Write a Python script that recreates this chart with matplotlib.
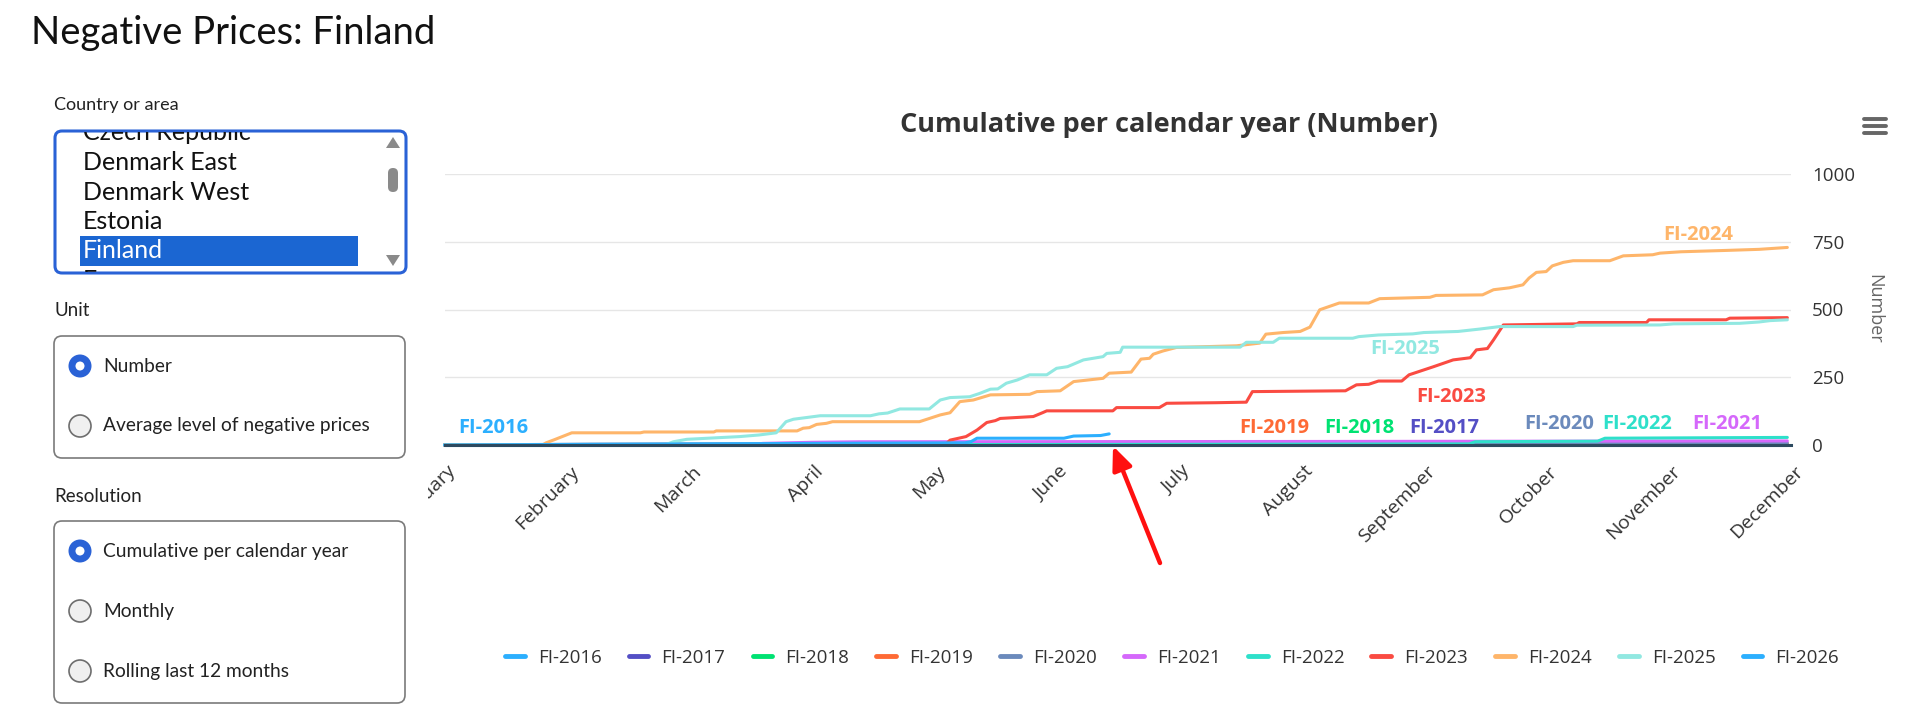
import matplotlib
matplotlib.use("Agg")
import matplotlib.pyplot as plt
from matplotlib.patches import FancyBboxPatch, Circle, Polygon, FancyArrowPatch
from matplotlib.transforms import Bbox, TransformedBbox, ScaledTranslation

W, H = 1920, 711

# ---- data (x = months since 1 January, y = cumulative number of negative-price hours)
months = ["January", "February", "March", "April", "May", "June", "July",
          "August", "September", "October", "November", "December"]

fi2016_x = [0, 10.97]
fi2016_y = [0, 0]
fi2017_x = [0, 10.97]
fi2017_y = [0, 2]
fi2018_x = [0, 10.97]
fi2018_y = [0, 1]
fi2019_x = [0, 4.0, 9.1, 10.97]
fi2019_y = [0, 1, 2, 4]
fi2020_x = [0, 1.2, 3.0, 9.0, 10.97]
fi2020_y = [0, 3, 5, 6, 8]
fi2021_x = [0, 2.5, 2.6, 3.0, 3.4, 7.0, 10.97]
fi2021_y = [0, 0, 6, 10, 12, 13, 15]
fi2022_x = [0, 5.0, 8.37, 8.42, 9.42, 9.48, 10.97]
fi2022_y = [0, 2, 4, 12, 14, 25, 28]
fi2023_x = [0, 3.5, 4.10, 4.13, 4.26, 4.35, 4.43, 4.50, 4.54, 4.81, 4.89, 4.92,
            5.46, 5.49, 5.84, 5.90, 6.30, 6.55, 6.60, 7.36, 7.45, 7.55, 7.63,
            7.82, 7.88, 8.08, 8.24, 8.38, 8.43, 8.52, 8.57, 8.65, 9.25, 9.27,
            9.82, 9.84, 10.47, 10.50, 10.97]
fi2023_y = [0, 0, 5, 18, 31, 55, 83, 90, 98, 105, 120, 126,
            126, 138, 138, 154, 156, 158, 197, 200, 222, 224, 236,
            236, 259, 289, 314, 322, 351, 356, 388, 443, 447, 452,
            452, 462, 462, 468, 470]
fi2024_x = [0, 0.80, 0.83, 0.90, 1.04, 1.60, 1.63, 2.20, 2.22, 2.88, 2.93, 2.98,
            3.04, 3.12, 3.17, 3.88, 4.05, 4.13, 4.21, 4.32, 4.46, 4.78, 4.84,
            5.03, 5.14, 5.38, 5.43, 5.61, 5.69, 5.76, 5.79, 5.87, 5.98, 6.47,
            6.66, 6.71, 6.85, 6.99, 7.07, 7.15, 7.31, 7.55, 7.64, 8.05, 8.10,
            8.48, 8.57, 8.70, 8.81, 8.86, 8.92, 9.00, 9.05, 9.14, 9.22, 9.52,
            9.63, 9.87, 9.93, 10.10, 10.47, 10.74, 10.97]
fi2024_y = [0, 0, 8, 20, 45, 45, 48, 48, 52, 52, 62, 64,
            76, 80, 86, 86, 111, 119, 160, 166, 185, 187, 197,
            200, 234, 246, 265, 269, 317, 320, 335, 347, 360, 366,
            376, 409, 415, 419, 435, 499, 524, 524, 540, 545, 552,
            554, 573, 580, 591, 616, 637, 640, 661, 674, 680, 680,
            698, 702, 708, 713, 718, 722, 729]
fi2025_x = [0, 1.80, 1.87, 1.98, 2.41, 2.57, 2.71, 2.79, 2.85, 3.07, 3.48, 3.55,
            3.62, 3.72, 3.96, 4.05, 4.13, 4.29, 4.37, 4.46, 4.52, 4.59, 4.68,
            4.78, 4.92, 5.00, 5.09, 5.22, 5.38, 5.41, 5.52, 5.54, 6.50, 6.55,
            6.77, 6.82, 7.42, 7.47, 7.63, 7.91, 8.00, 8.28, 8.46, 8.62, 9.22,
            9.25, 9.93, 10.04, 10.58, 10.74, 10.83, 10.97]
fi2025_y = [0, 0, 12, 21, 31, 37, 45, 86, 95, 108, 108, 115,
            118, 133, 133, 166, 175, 178, 190, 206, 207, 228, 240,
            259, 259, 283, 289, 314, 326, 338, 342, 361, 361, 379,
            379, 394, 394, 400, 406, 410, 415, 419, 428, 437, 437,
            442, 443, 447, 449, 454, 459, 462]
fi2026_x = [0, 1.0, 2.0, 3.0, 4.25, 4.30, 4.35, 5.06, 5.14, 5.36, 5.43]
fi2026_y = [0, 2, 4, 6, 8, 12, 25, 25, 33, 35, 41]

series_names = ["FI-2016", "FI-2017", "FI-2018", "FI-2019", "FI-2020", "FI-2021",
                "FI-2022", "FI-2023", "FI-2024", "FI-2025", "FI-2026"]
series_x = [fi2016_x, fi2017_x, fi2018_x, fi2019_x, fi2020_x, fi2021_x,
            fi2022_x, fi2023_x, fi2024_x, fi2025_x, fi2026_x]
series_y = [fi2016_y, fi2017_y, fi2018_y, fi2019_y, fi2020_y, fi2021_y,
            fi2022_y, fi2023_y, fi2024_y, fi2025_y, fi2026_y]
colors = ["#2caffe", "#544fc5", "#00e272", "#fe6a35", "#6b8abc", "#d568fb",
          "#2ee0ca", "#fa4b42", "#feb56a", "#91e8e1", "#2caffe"]

# in-chart series labels: (name, month position, value)
label_pos = [("FI-2016", 0.40, 63), ("FI-2019", 6.78, 63), ("FI-2018", 7.47, 63),
             ("FI-2017", 8.17, 63), ("FI-2020", 9.11, 77), ("FI-2022", 9.74, 77),
             ("FI-2021", 10.48, 77), ("FI-2023", 8.22, 176), ("FI-2025", 7.85, 353),
             ("FI-2024", 10.24, 774)]

countries = ["Czech Republic", "Denmark East", "Denmark West", "Estonia", "Finland", "France"]
unit_options = ["Number", "Average level of negative prices"]
resolution_options = ["Cumulative per calendar year", "Monthly", "Rolling last 12 months"]

CHART_FONT = ["Open Sans", "DejaVu Sans"]
UI_FONT = ["Lato", "DejaVu Sans"]


def fx(x):
    return x / W


def fy(y):
    return 1 - y / H


fig = plt.figure(figsize=(W / 100, H / 100), dpi=100)

# ---- chart
ax = fig.add_axes([fx(444.5), fy(445), fx(1791) - fx(444.5), fy(174) - fy(445)])
lines = []
for name, xs, ys, c in zip(series_names, series_x, series_y, colors):
    ln, = ax.plot(xs, ys, color=c, lw=2.2, label=name, clip_on=False,
                  solid_joinstyle="round", solid_capstyle="round", zorder=2)
    lines.append(ln)

for name, xm, val in label_pos:
    ax.text(xm, val, name, color=colors[series_names.index(name)], fontsize=14.5,
            fontweight="bold", family=CHART_FONT, ha="center", va="center")

ax.set_xlim(0, 11)
ax.set_ylim(0, 1000)
ax.set_yticks([0, 250, 500, 750, 1000])
ax.grid(axis="y", color="#e6e6e6", lw=1)
ax.set_axisbelow(True)
for s in ["top", "left", "right"]:
    ax.spines[s].set_visible(False)
ax.spines["bottom"].set_color("#2d4a60")
ax.spines["bottom"].set_linewidth(2.2)
ax.yaxis.tick_right()
ax.tick_params(axis="y", length=0, pad=15, labelsize=13.5, labelcolor="#333333")
ax.set_xticks(range(12))
ax.set_xticklabels(months)
ax.tick_params(axis="x", length=0, pad=17, labelsize=14, labelcolor="#333333")
clip = TransformedBbox(Bbox.from_extents(fx(428), 0, 1, 1), fig.transFigure)
shift = ScaledTranslation(0.09, 0, fig.dpi_scale_trans)
for lbl in ax.get_xticklabels():
    lbl.set_rotation(45)
    lbl.set_ha("right")
    lbl.set_va("center")
    lbl.set_rotation_mode("anchor")
    lbl.set_family(CHART_FONT)
    lbl.set_transform(lbl.get_transform() + shift)
    lbl.set_clip_box(clip)
    lbl.set_clip_on(True)
for lbl in ax.get_yticklabels():
    lbl.set_family(CHART_FONT)

fig.text(fx(1874), fy(309), "Number", rotation=270, ha="center", va="center",
         fontsize=13, color="#666666", family=CHART_FONT)
fig.text(fx(1169), fy(125), "Cumulative per calendar year (Number)", ha="center",
         va="center", fontsize=19.5, fontweight="bold", color="#333333", family=CHART_FONT)

leg = fig.legend(lines, series_names, ncol=11, loc="center",
                 bbox_to_anchor=(fx(1172), fy(658)), frameon=False,
                 handlelength=1.05, handletextpad=0.7, columnspacing=1.45,
                 prop={"family": CHART_FONT, "size": 13.5})
for t in leg.get_texts():
    t.set_color("#333333")
for h in leg.legend_handles:
    h.set_linewidth(3.5)
    h.set_solid_capstyle("round")

# ---- page overlay (pixel coordinates)
ui = fig.add_axes([0, 0, 1, 1], zorder=5)
ui.set_xlim(0, W)
ui.set_ylim(H, 0)
ui.axis("off")
ui.patch.set_alpha(0)

# hamburger menu
for yy in (119, 126, 133):
    ui.plot([1864, 1886], [yy, yy], color="#666666", lw=2.8, solid_capstyle="round")

ui.text(31, 33, "Negative Prices: Finland", fontsize=27.5, family=UI_FONT,
        color="#111111", ha="left", va="center")

ui.text(54, 105, "Country or area", fontsize=13, family=UI_FONT, color="#222222",
        ha="left", va="center")
ui.add_patch(FancyBboxPatch((55, 131), 351, 142, boxstyle="round,pad=0,rounding_size=7",
                            fc="white", ec="#2a62d6", lw=2.2))
ui.add_patch(FancyBboxPatch((80, 236), 278, 30, boxstyle="square,pad=0",
                            fc="#1b66d2", ec="none"))
list_clip = TransformedBbox(Bbox.from_extents(56, 132, 405, 272), ui.transData)
for i, c in enumerate(countries):
    yy = 133 + i * 29.5
    t = ui.text(83, yy, c, fontsize=18, family=UI_FONT, ha="left", va="center",
                color="white" if c == "Finland" else "#111111")
    t.set_clip_box(list_clip)
    t.set_clip_on(True)
# scrollbar
ui.add_patch(Polygon([[386, 148], [400, 148], [393, 137]], closed=True, fc="#8a8a8a", ec="none"))
ui.add_patch(Polygon([[386, 255], [400, 255], [393, 266]], closed=True, fc="#8a8a8a", ec="none"))
ui.add_patch(FancyBboxPatch((388, 168), 10, 24, boxstyle="round,pad=0,rounding_size=5",
                            fc="#8a8a8a", ec="none"))


def radio_group(title, title_y, box_y, box_h, options, selected, first_y):
    ui.text(54, title_y, title, fontsize=13.5, family=UI_FONT, color="#222222",
            ha="left", va="center")
    ui.add_patch(FancyBboxPatch((54, box_y), 351, box_h,
                                boxstyle="round,pad=0,rounding_size=8",
                                fc="white", ec="#7a7a7a", lw=1.2))
    for i, opt in enumerate(options):
        cy = first_y + i * 60
        if opt == selected:
            ui.add_patch(Circle((80, cy), 11.5, fc="#2a62d6", ec="none"))
            ui.add_patch(Circle((80, cy), 4.5, fc="white", ec="none"))
        else:
            ui.add_patch(Circle((80, cy), 11, fc="#f0f0f0", ec="#6e6e6e", lw=1.2))
        ui.text(103, cy, opt, fontsize=13.8, family=UI_FONT, color="#222222",
                ha="left", va="center")


radio_group("Unit", 311, 336, 122, unit_options, "Number", 366)
radio_group("Resolution", 496, 521, 182, resolution_options,
            "Cumulative per calendar year", 551)

# red arrow pointing to the end of FI-2026
ui.add_patch(FancyArrowPatch((1160, 563), (1113, 446), arrowstyle="-|>,head_length=14,head_width=6",
                             color="#ff1010", lw=3.2, mutation_scale=1, shrinkA=0, shrinkB=0))

fig.savefig("out.png", dpi=100, facecolor="white")
